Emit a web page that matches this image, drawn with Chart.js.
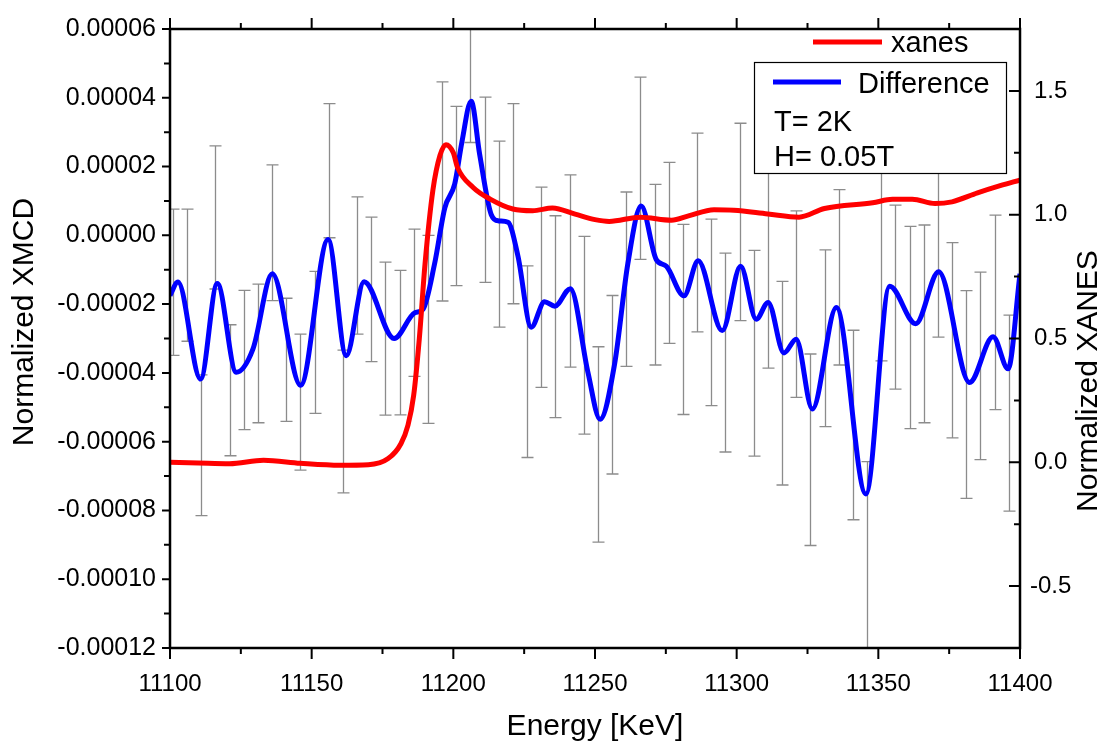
<!DOCTYPE html>
<html>
<head>
<meta charset="utf-8">
<script src="https://cdn.jsdelivr.net/npm/chart.js@4.4.1/dist/chart.umd.min.js"></script>
<style>
  html, body { margin: 0; padding: 0; background: #fff; }
</style>
</head>
<body>
<canvas id="xmcdChart" width="1104" height="745"></canvas>
<script>
// XANES curve (right axis)
const xanesEnergy = [11100, 11110, 11121, 11133, 11146, 11160, 11170, 11177, 11181.5, 11184, 11186, 11188, 11190, 11192.8, 11195.3, 11197.4, 11200, 11201.5, 11207, 11213, 11221, 11228, 11235, 11243, 11250, 11255, 11266, 11277, 11283, 11292, 11299, 11311, 11322, 11331, 11348, 11355, 11362, 11370, 11376, 11385, 11393, 11400];
const xanesValues = [0.0, -0.003, -0.006, 0.008, -0.004, -0.012, -0.01, 0.015, 0.075, 0.15, 0.27, 0.5, 0.8, 1.1, 1.24, 1.283, 1.25, 1.19, 1.11, 1.063, 1.023, 1.016, 1.027, 1.002, 0.98, 0.973, 0.99, 0.978, 0.995, 1.02, 1.018, 1.003, 0.99, 1.025, 1.048, 1.062, 1.062, 1.045, 1.052, 1.088, 1.117, 1.14];

// Difference (XMCD) curve (left axis)
const diffEnergy = [11100, 11102.8, 11110.8, 11116.7, 11123.4, 11129.3, 11136.1, 11146.1, 11155.8, 11162.2, 11168.5, 11179.1, 11186.4, 11189.3, 11193.4, 11197, 11200.5, 11203, 11206.3, 11209.3, 11213.4, 11216, 11219.3, 11222.8, 11227.5, 11232.2, 11235.8, 11241.3, 11247.5, 11251.8, 11256.9, 11261.6, 11266.3, 11271.6, 11275.2, 11281.4, 11286.4, 11294.9, 11301.4, 11306.9, 11311.1, 11316.7, 11321, 11326.7, 11335.2, 11345.6, 11354, 11363.2, 11371.3, 11382.2, 11390.5, 11395.8, 11400];
const diffValues = [-1.75e-5, -1.36e-5, -4.18e-5, -1.40e-5, -3.98e-5, -3.3e-5, -1.12e-5, -4.36e-5, -0.12e-5, -3.5e-5, -1.35e-5, -3.0e-5, -2.25e-5, -2.15e-5, -0.82e-5, 0.8e-5, 1.5e-5, 2.7e-5, 3.9e-5, 2.35e-5, 0.6e-5, 0.42e-5, 0.38e-5, -0.6e-5, -2.67e-5, -1.93e-5, -2.06e-5, -1.55e-5, -3.98e-5, -5.35e-5, -3.75e-5, -0.82e-5, 0.85e-5, -0.7e-5, -0.9e-5, -1.76e-5, -0.74e-5, -2.77e-5, -0.9e-5, -2.44e-5, -1.95e-5, -3.42e-5, -3.02e-5, -5.05e-5, -2.1e-5, -7.52e-5, -1.48e-5, -2.57e-5, -1.06e-5, -4.28e-5, -2.95e-5, -3.88e-5, -1.12e-5];

// error bars of the raw difference points (left axis)
const barEnergy = [11101, 11106, 11111, 11116, 11121, 11126, 11131, 11136, 11141, 11146, 11151, 11156, 11161, 11166, 11171, 11176, 11181, 11186, 11191, 11196, 11201, 11206, 11211, 11216, 11221, 11226, 11231, 11236, 11241, 11246, 11251, 11256, 11261, 11266, 11271, 11276, 11281, 11286, 11291, 11296, 11301, 11306, 11311, 11316, 11321, 11326, 11331, 11336, 11341, 11346, 11351, 11356, 11361, 11366, 11371, 11376, 11381, 11386, 11391, 11396];
const barTop = [0.76e-5, 0.76e-5, -4.06e-5, 2.60e-5, -2.60e-5, -1.60e-5, -1.42e-5, 2.05e-5, -1.83e-5, -2.87e-5, -1.05e-5, 3.83e-5, -3.34e-5, 1.12e-5, 0.53e-5, -0.78e-5, -1.02e-5, 0.18e-5, 0.00e-5, 4.46e-5, 3.75e-5, 8.5e-5, 4.02e-5, 2.74e-5, 3.83e-5, -0.89e-5, 1.40e-5, 0.57e-5, 1.76e-5, -0.03e-5, -3.24e-5, -1.75e-5, 1.26e-5, 4.60e-5, 1.48e-5, 2.12e-5, 0.32e-5, 2.97e-5, 0.47e-5, -0.52e-5, 3.26e-5, -0.44e-5, 3.0e-5, -1.34e-5, 0.71e-5, -3.45e-5, -0.42e-5, 1.33e-5, -2.76e-5, -6.58e-5, 3.2e-5, 0.88e-5, 0.26e-5, 0.30e-5, 3.3e-5, -0.21e-5, -1.61e-5, -1.07e-5, 0.59e-5, -2.32e-5];
const barBottom = [-3.49e-5, -3.08e-5, -8.15e-5, -1.56e-5, -6.41e-5, -5.65e-5, -5.45e-5, -1.90e-5, -5.41e-5, -6.83e-5, -5.18e-5, -0.07e-5, -7.49e-5, -2.87e-5, -3.67e-5, -5.23e-5, -5.22e-5, -4.10e-5, -5.47e-5, -1.91e-5, -1.46e-5, 2.70e-5, -1.37e-5, -2.67e-5, -1.99e-5, -6.46e-5, -4.42e-5, -5.30e-5, -3.83e-5, -5.78e-5, -8.92e-5, -6.94e-5, -3.81e-5, -0.70e-5, -3.77e-5, -3.14e-5, -5.21e-5, -2.81e-5, -4.95e-5, -6.30e-5, -2.48e-5, -6.42e-5, -3.86e-5, -7.26e-5, -4.71e-5, -9.02e-5, -5.56e-5, -3.77e-5, -8.27e-5, -16e-5, -3.65e-5, -4.47e-5, -5.62e-5, -5.45e-5, -2.96e-5, -5.89e-5, -7.65e-5, -6.52e-5, -5.07e-5, -8.02e-5];

// ticks
const energyTicks = [11100, 11150, 11200, 11250, 11300, 11350, 11400];
const energyMinor = [11125, 11175, 11225, 11275, 11325, 11375];
const xmcdTicks = [-0.00012, -0.0001, -0.00008, -0.00006, -0.00004, -0.00002, 0, 0.00002, 0.00004, 0.00006];
const xmcdMinor = [-0.00011, -0.00009, -0.00007, -0.00005, -0.00003, -0.00001, 0.00001, 0.00003, 0.00005];
const xanesTicks = [-0.5, 0, 0.5, 1.0, 1.5];
const xanesMinor = [-0.25, 0.25, 0.75, 1.25];

const FONT = '"Liberation Sans", Arial, sans-serif';
const barColor = 'rgb(140,140,140)';

function toPoints(xs, ys) {
  return xs.map((v, i) => ({ x: v, y: ys[i] }));
}

// frame, ticks, error bars, legend and axis titles
const originLook = {
  id: 'originLook',
  beforeDatasetsDraw(chart) {
    const { ctx, chartArea: a, scales: { x, y } } = chart;
    ctx.save();
    ctx.beginPath();
    ctx.rect(a.left, a.top, a.right - a.left, a.bottom - a.top);
    ctx.clip();
    ctx.strokeStyle = barColor;
    ctx.lineWidth = 1.3;
    barEnergy.forEach((e, i) => {
      const px = Math.round(x.getPixelForValue(e)) + 0.5;
      const t = y.getPixelForValue(barTop[i]);
      const b = y.getPixelForValue(barBottom[i]);
      ctx.beginPath();
      ctx.moveTo(px, t); ctx.lineTo(px, b);
      ctx.moveTo(px - 6, t); ctx.lineTo(px + 6, t);
      ctx.moveTo(px - 6, b); ctx.lineTo(px + 6, b);
      ctx.stroke();
    });
    ctx.restore();
  },
  afterDatasetsDraw(chart) {
    const { ctx, chartArea: a, scales: { x, y, y2 } } = chart;
    ctx.save();
    ctx.strokeStyle = '#000';
    ctx.lineWidth = 2;
    ctx.beginPath();
    energyTicks.forEach(v => {
      const px = x.getPixelForValue(v);
      ctx.moveTo(px, a.bottom); ctx.lineTo(px, a.bottom + 11);
      ctx.moveTo(px, a.top); ctx.lineTo(px, a.top - 11);
    });
    energyMinor.forEach(v => {
      const px = x.getPixelForValue(v);
      ctx.moveTo(px, a.bottom); ctx.lineTo(px, a.bottom + 6);
      ctx.moveTo(px, a.top); ctx.lineTo(px, a.top - 6);
    });
    xmcdTicks.forEach(v => {
      const py = y.getPixelForValue(v);
      ctx.moveTo(a.left, py); ctx.lineTo(a.left - 8, py);
    });
    xmcdMinor.forEach(v => {
      const py = y.getPixelForValue(v);
      ctx.moveTo(a.left, py); ctx.lineTo(a.left - 6, py);
    });
    xanesTicks.forEach(v => {
      const py = y2.getPixelForValue(v);
      ctx.moveTo(a.right, py); ctx.lineTo(a.right - 11, py);
    });
    xanesMinor.forEach(v => {
      const py = y2.getPixelForValue(v);
      ctx.moveTo(a.right, py); ctx.lineTo(a.right - 6, py);
    });
    ctx.stroke();
    ctx.lineWidth = 2.5;
    ctx.strokeRect(a.left, a.top, a.right - a.left, a.bottom - a.top);
    ctx.restore();
  },
  afterDraw(chart) {
    const { ctx } = chart;
    const sets = chart.data.datasets;
    ctx.save();
    // legend
    ctx.font = '29px ' + FONT;
    ctx.fillStyle = '#000';
    ctx.textBaseline = 'alphabetic';
    ctx.lineWidth = 5;
    ctx.strokeStyle = sets[0].borderColor;
    ctx.beginPath(); ctx.moveTo(813, 42); ctx.lineTo(882, 42); ctx.stroke();
    ctx.fillText(sets[0].label, 891, 52);

    ctx.fillStyle = '#fff';
    ctx.fillRect(754, 62, 253, 112);
    ctx.lineWidth = 1.2;
    ctx.strokeStyle = '#000';
    ctx.strokeRect(754.5, 62.5, 252, 111);
    ctx.lineWidth = 5;
    ctx.strokeStyle = sets[1].borderColor;
    ctx.beginPath(); ctx.moveTo(773, 82); ctx.lineTo(841, 82); ctx.stroke();
    ctx.fillStyle = '#000';
    ctx.fillText(sets[1].label, 858, 93);
    ctx.fillText('T= 2K', 774, 131);
    ctx.fillText('H= 0.05T', 774, 166);

    // axis titles
    ctx.font = '30px ' + FONT;
    ctx.textAlign = 'center';
    ctx.textBaseline = 'middle';
    ctx.fillText('Energy [KeV]', 595, 727);
    ctx.save();
    ctx.translate(25, 322);
    ctx.rotate(-Math.PI / 2);
    ctx.fillText('Normalized XMCD', 0, 0);
    ctx.restore();
    ctx.save();
    ctx.translate(1089, 381);
    ctx.rotate(-Math.PI / 2);
    ctx.fillText('Normalized XANES', 0, 0);
    ctx.restore();
    ctx.restore();
  }
};

const ctx = document.getElementById('xmcdChart').getContext('2d');
const xmcdChart = new Chart(ctx, {
  type: 'line',
  data: {
    datasets: [{
      label: 'xanes',
      data: toPoints(xanesEnergy, xanesValues),
      yAxisID: 'y2',
      borderColor: '#ff0000',
      borderWidth: 5,
      pointRadius: 0,
      cubicInterpolationMode: 'monotone',
      fill: false
    }, {
      label: 'Difference',
      data: toPoints(diffEnergy, diffValues),
      yAxisID: 'y',
      borderColor: '#0000ff',
      borderWidth: 5,
      pointRadius: 0,
      cubicInterpolationMode: 'monotone',
      fill: false
    }]
  },
  options: {
    responsive: false,
    animation: false,
    devicePixelRatio: 1,
    layout: { padding: { top: 20, left: 0, right: 0, bottom: 0 } },
    plugins: {
      legend: { display: false },
      tooltip: { enabled: false }
    },
    scales: {
      x: {
        type: 'linear',
        position: 'bottom',
        min: 11100,
        max: 11400,
        afterBuildTicks: s => { s.ticks = energyTicks.map(v => ({ value: v })); },
        afterFit: s => { s.height = 97; },
        grid: { display: false, drawTicks: false },
        border: { display: false },
        ticks: {
          autoSkip: false,
          maxRotation: 0,
          padding: 22,
          color: '#000',
          font: { family: FONT, size: 24 },
          callback: v => String(v)
        }
      },
      y: {
        type: 'linear',
        position: 'left',
        min: -0.00012,
        max: 0.00006,
        afterBuildTicks: s => { s.ticks = xmcdTicks.map(v => ({ value: v })); },
        afterFit: s => { s.width = 170; },
        grid: { display: false, drawTicks: false },
        border: { display: false },
        ticks: {
          padding: 14,
          color: '#000',
          font: { family: FONT, size: 25 },
          callback: v => v.toFixed(5)
        }
      },
      y2: {
        type: 'linear',
        position: 'right',
        min: -0.75,
        max: 1.75,
        afterBuildTicks: s => { s.ticks = xanesTicks.map(v => ({ value: v })); },
        afterFit: s => { s.width = 84; },
        grid: { display: false, drawTicks: false },
        border: { display: false },
        ticks: {
          padding: 10,
          crossAlign: 'center',
          color: '#000',
          font: { family: FONT, size: 24 },
          callback: v => v.toFixed(1)
        }
      }
    }
  },
  plugins: [originLook]
});
</script>
</body>
</html>
